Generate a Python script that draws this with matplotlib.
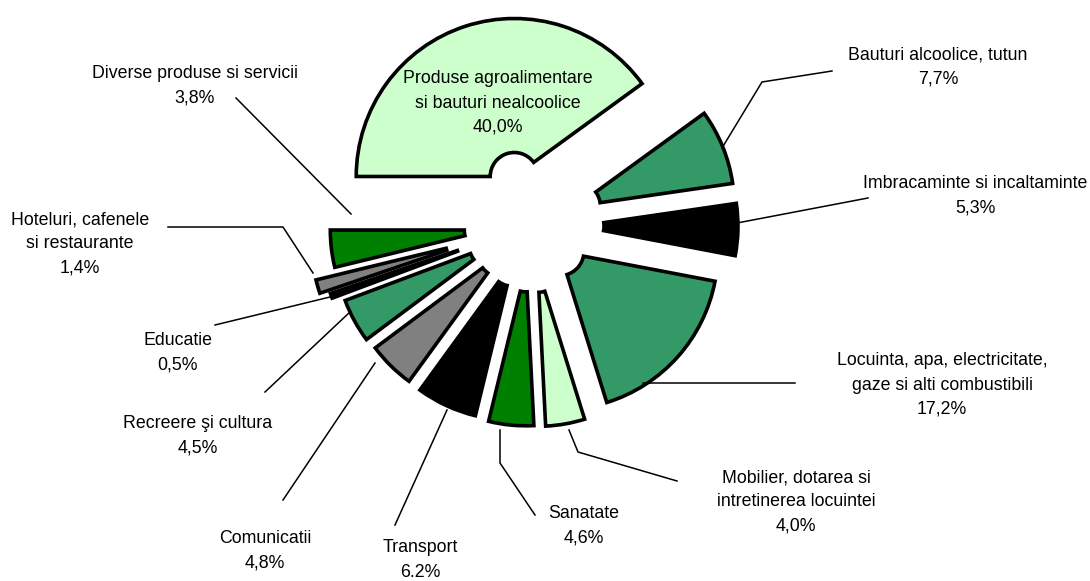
import matplotlib as mpl
mpl.use('Agg')
import matplotlib.pyplot as plt

# structura cheltuielilor de consum, %
categories = ['Produse agroalimentare\nsi bauturi nealcoolice',
              'Bauturi alcoolice, tutun',
              'Imbracaminte si incaltaminte',
              'Locuinta, apa, electricitate,\ngaze si alti combustibili',
              'Mobilier, dotarea si\nintretinerea locuintei',
              'Sanatate',
              'Transport',
              'Comunicatii',
              'Recreere şi cultura',
              'Educatie',
              'Hoteluri, cafenele\nsi restaurante',
              'Diverse produse si servicii']
shares = [40.0, 7.7, 5.3, 17.2, 4.0, 4.6, 6.2, 4.8, 4.5, 0.5, 1.4, 3.8]
pct_labels = ['40,0%', '7,7%', '5,3%', '17,2%', '4,0%', '4,6%',
              '6.2%', '4,8%', '4,5%', '0,5%', '1,4%', '3,8%']

colors = ['#CCFFCC', '#339966', '#000000', '#339966', '#CCFFCC', '#008000',
          '#000000', '#808080', '#339966', '#000000', '#808080', '#008000']
explode = [51, 50, 50, 40, 44, 43, 41, 40, 42, 53, 63, 42]

# layout in pixel coords (y down)
label_pos = [(498, 103), (938, 67), (975, 196), (942, 385), (796, 502),
             (584, 526), (420, 560), (265, 551), (198, 436), (178, 353),
             (80, 244), (195, 86)]
leaders = [None,
           [(832, 71), (762, 82), (722, 148)],
           [(868, 198), (737, 223)],
           [(795, 383), (643, 383)],
           [(677, 481), (578, 452), (569, 430)],
           [(535, 515), (500, 463), (500, 430)],
           [(395, 525), (447, 410)],
           [(283, 500), (375, 363)],
           [(265, 392), (350, 312)],
           [(215, 325), (330, 297)],
           [(168, 227), (283, 227), (313, 273)],
           [(236, 98), (351, 214)]]

fig = plt.figure(figsize=(10.9, 5.81), dpi=100)
ax = fig.add_axes([0, 0, 1, 1])

ax.pie(shares, explode=explode, colors=colors, startangle=180,
       counterclock=True, center=(530, 225), radius=158,
       wedgeprops=dict(width=134, edgecolor='black', linewidth=2.6))
ax.set_xlim(0, 1090)
ax.set_ylim(581, 0)
ax.set_aspect('equal')
ax.axis('off')

for cat, pct, (x, y) in zip(categories, pct_labels, label_pos):
    ax.text(x, y, cat + '\n' + pct, ha='center', va='center',
            fontsize=12.8, linespacing=1.55, family='Liberation Sans',
            color='black')

for path in leaders:
    if path is None:
        continue
    xs = [p[0] for p in path]
    ys = [p[1] for p in path]
    ax.plot(xs, ys, color='black', lw=1.1)

plt.savefig('out.png', dpi=100)
